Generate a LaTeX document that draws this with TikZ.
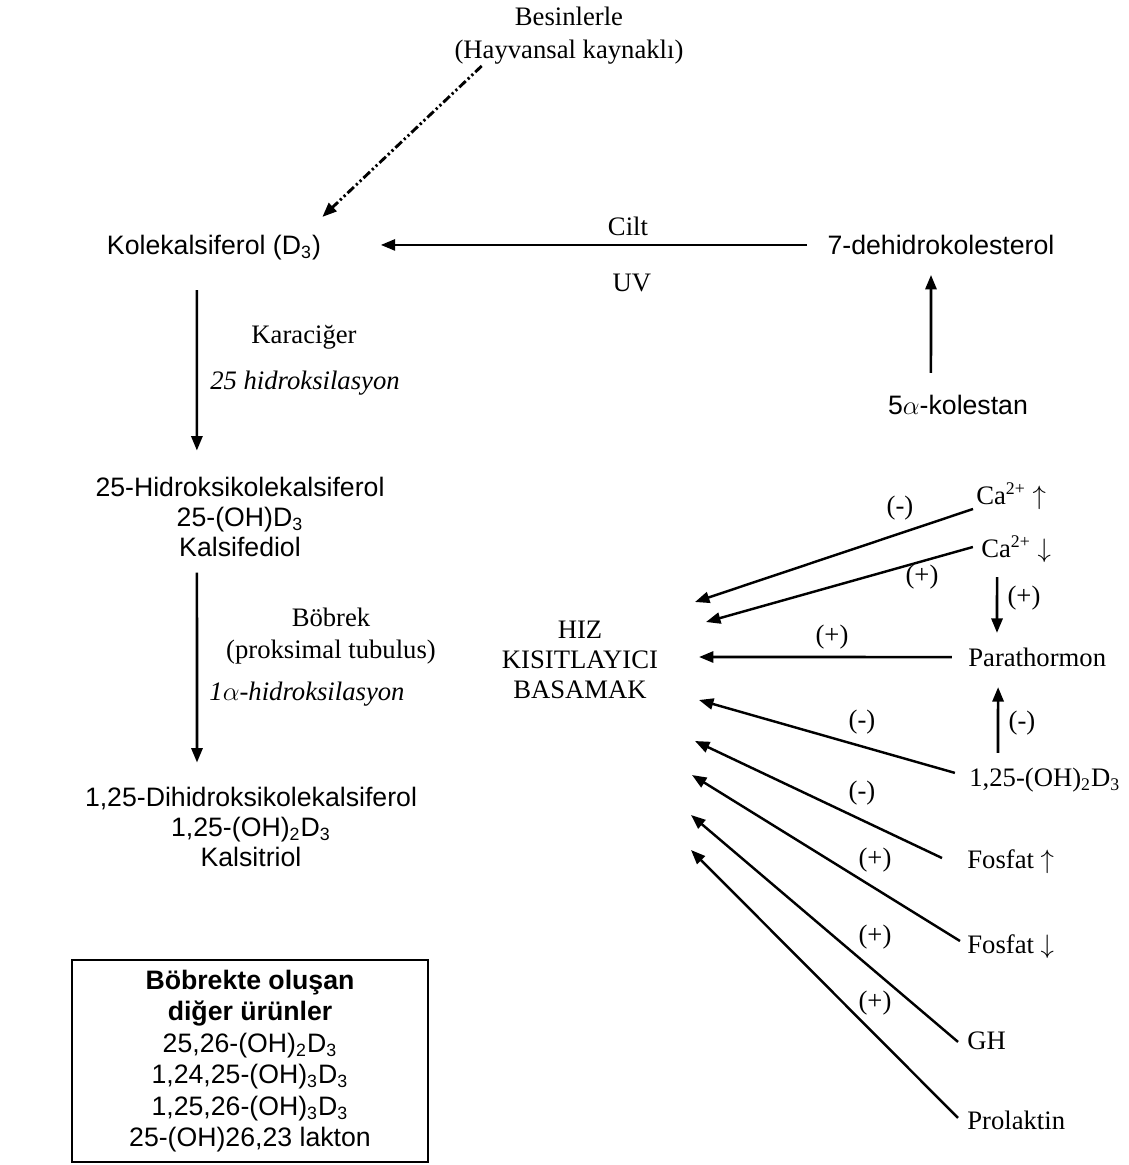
\documentclass[tikz,border=0pt]{standalone}
\usepackage{fontspec}
\setmainfont{Liberation Serif}
\setsansfont{Liberation Sans}
\usepackage{tikz}
\usetikzlibrary{arrows.meta}
\newcommand{\okt}{-{Triangle[length=6.5pt,width=5pt]}}
\newcommand{\altind}[1]{\textsubscript{#1}}

\begin{document}
\begin{tikzpicture}[x=.45pt,y=-.45pt,line width=1.2pt,
  bilesik/.style={font=\sffamily\fontsize{12}{13.5}\selectfont,inner sep=0pt,align=center},
  etiket/.style={font=\rmfamily\fontsize{12}{14.4}\selectfont,inner sep=0pt,align=center},
  egik/.style={etiket,font=\rmfamily\itshape\fontsize{12}{14.4}\selectfont},
  egri/.style={line width=1.1pt},
  noktali/.style={line width=1.3pt,dash pattern=on 4pt off 1.3pt on 1pt off 1.3pt on 1pt off 1.3pt}]
\useasboundingbox (0,0) rectangle (1129,1165);
%kaynaklar
\node[etiket,font=\rmfamily\fontsize{12}{14.85}\selectfont] (besin) at (569,36) {Besinlerle\\(Hayvansal kaynaklı)};
\node[bilesik,anchor=base] (kole) at (214,254.5) {Kolekalsiferol (D\altind{3})};
\node[bilesik,anchor=base] (dehidro) at (941,254.5) {7-dehidrokolesterol};
\node[bilesik,anchor=base] (kolestan) at (958,414.5) {5$\alpha$-kolestan};
\node[bilesik] (hidroksi) at (240,517) {25-Hidroksikolekalsiferol\\25-(OH)D\altind{3}\\Kalsifediol};
\node[bilesik] (dihidroksi) at (251,827) {1,25-Dihidroksikolekalsiferol\\1,25-(OH)\altind{2}D\altind{3}\\Kalsitriol};
\node[bilesik,draw,line width=1.3pt,minimum width=160.2pt,minimum height=90.9pt,
  font=\sffamily\fontsize{12}{14.2}\selectfont] (urun) at (250,1061)
  {\textbf{Böbrekte oluşan}\\\textbf{diğer ürünler}\\25,26-(OH)\altind{2}D\altind{3}\\
   1,24,25-(OH)\altind{3}D\altind{3}\\1,25,26-(OH)\altind{3}D\altind{3}\\25-(OH)26,23 lakton};
%ok etiketleri
\node[etiket,anchor=base] (cilt) at (628,235) {Cilt};
\node[etiket,anchor=base] (uv) at (632,291) {UV};
\node[etiket,anchor=base] (karaciger) at (304,343) {Karaciğer};
\node[egik,anchor=base] (hidr25) at (305,389) {25 hidroksilasyon};
\node[etiket] (bobrek) at (331,636) {Böbrek\\(proksimal tubulus)};
\node[egik,anchor=base] (hidr1a) at (307,700) {1$\alpha$-hidroksilasyon};
%hiz kisitlayici basamak
\node[etiket,font=\rmfamily\fontsize{12}{13.5}\selectfont] (hiz) at (580,660) {HIZ\\KISITLAYICI\\BASAMAK};
%duzenleyiciler
\node[etiket,anchor=base west] (caup) at (975,504) {Ca\textsuperscript{2+} $\uparrow$};
\node[etiket,anchor=base west] (cadn) at (980,557) {Ca\textsuperscript{2+} $\downarrow$};
\node[etiket,anchor=base west] (pth) at (967,666) {Parathormon};
\node[etiket,anchor=base west] (dkal) at (968,786) {1,25-(OH)\altind{2}D\altind{3}};
\node[etiket,anchor=base west] (fup) at (966,868) {Fosfat $\uparrow$};
\node[etiket,anchor=base west] (fdn) at (966,953) {Fosfat $\downarrow$};
\node[etiket,anchor=base west] (gh) at (966,1049) {GH};
\node[etiket,anchor=base west] (prl) at (966,1129) {Prolaktin};
\coordinate (t1) at (695,602);
\coordinate (t2) at (706,622);
\coordinate (t3) at (699,657);
\coordinate (t4) at (699,700);
\coordinate (t5) at (695,741);
\coordinate (t6) at (692,775);
\coordinate (t7) at (691,815);
\coordinate (t8) at (691,850);
%isaretler
\node[etiket,anchor=base] (s1) at (900,514) {(-)};
\node[etiket,anchor=base] (s2) at (922,583) {(+)};
\node[etiket,anchor=base] (s3) at (1024,604) {(+)};
\node[etiket,anchor=base] (s4) at (832,643) {(+)};
\node[etiket,anchor=base] (s5) at (1022,729) {(-)};
\node[etiket,anchor=base] (s6) at (862,728) {(-)};
\node[etiket,anchor=base] (s7) at (862,799) {(-)};
\node[etiket,anchor=base] (s8) at (875,866) {(+)};
\node[etiket,anchor=base] (s9) at (875,943) {(+)};
\node[etiket,anchor=base] (s10) at (875,1009) {(+)};
%oklar
\draw[noktali,\okt] ([xshift=12.8pt]besin.south west) -- ([yshift=16.9pt]kole.base east);
\draw[\okt] ([xshift=-8.6pt,yshift=4.3pt]dehidro.base west) -- ([xshift=26.3pt,yshift=4.3pt]kole.base east);
\draw[\okt] ([xshift=-12.2pt,yshift=18.7pt]kolestan.base) -- ([xshift=-4.5pt,yshift=-9.2pt]dehidro.base);
\draw[\okt] ([xshift=-7.7pt,yshift=-16pt]kole.base) -- ([xshift=-19.4pt,yshift=11.4pt]hidroksi.north);
\draw[\okt] ([xshift=-19.4pt,yshift=-6.5pt]hidroksi.south) -- ([xshift=-24.3pt,yshift=10.5pt]dihidroksi.north);
\draw[egri,\okt] ([xshift=-0.9pt,yshift=-2.25pt]caup.base west) -- (t1);
\draw[egri,\okt] ([xshift=-3.2pt,yshift=4.5pt]cadn.base west) -- (t2);
\draw[\okt] ([xshift=-6.8pt,yshift=4pt]pth.base west) -- (t3);
\draw[egri,\okt] ([xshift=-5.9pt,yshift=5.9pt]dkal.base west) -- (t4);
\draw[egri,\okt] ([xshift=-10.8pt,yshift=4.5pt]fup.base west) -- (t5);
\draw[egri,\okt] ([xshift=-2.7pt,yshift=5.4pt]fdn.base west) -- (t6);
\draw[egri,\okt] ([xshift=-3.6pt,yshift=3.2pt]gh.base west) -- (t7);
\draw[egri,\okt] ([xshift=-3.6pt,yshift=5pt]prl.base west) -- (t8);
\draw[\okt] ([xshift=7.7pt,yshift=-9pt]cadn.base west) -- ([xshift=13.5pt,yshift=14.9pt]pth.base west);
\draw[\okt] ([xshift=13.5pt,yshift=14.9pt]dkal.base west) -- ([xshift=14pt,yshift=-9.5pt]pth.base west);
\end{tikzpicture}
\end{document}
